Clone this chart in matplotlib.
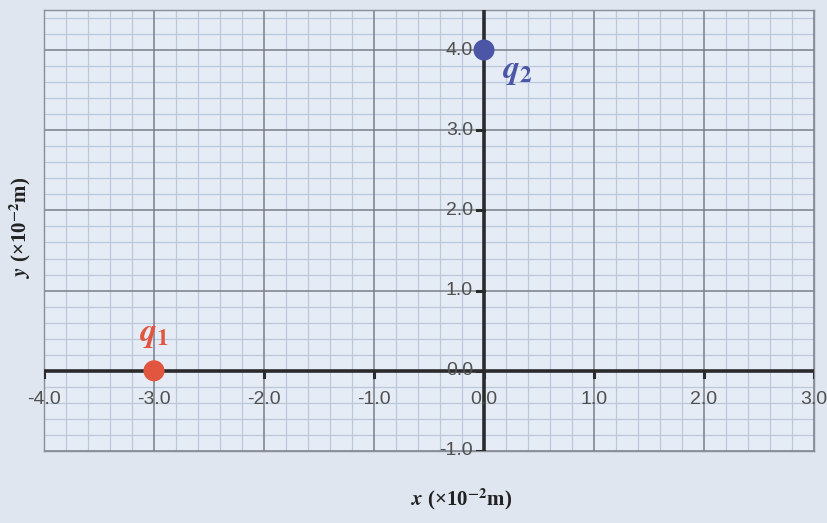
import matplotlib
matplotlib.use("Agg")
import matplotlib.pyplot as plt
import numpy as np

plt.rcParams["mathtext.fontset"] = "stix"

# --- data ---
charge_names = ["q_1", "q_2"]
charge_x = [-3.0, 0.0]
charge_y = [0.0, 4.0]
charge_colors = ["#e2553f", "#4b57a6"]

x_ticks = [-4.0, -3.0, -2.0, -1.0, 0.0, 1.0, 2.0, 3.0]
y_ticks = [-1.0, 0.0, 1.0, 2.0, 3.0, 4.0]

fig = plt.figure(figsize=(8.28, 5.23), dpi=100)
fig.patch.set_facecolor("#dfe6f0")
ax = fig.add_axes([0.0531, 0.1377, 0.9300, 0.8433])
ax.set_facecolor("#e6ecf5")
ax.set_xlim(-4, 3)
ax.set_ylim(-1, 4.5)

# grid paper
for v in np.arange(-4, 3.01, 0.2):
    if abs(v - round(v)) > 1e-6:
        ax.axvline(v, color="#b9c8dc", lw=0.9, zorder=1)
for v in np.arange(-1, 4.51, 0.2):
    if abs(v - round(v)) > 1e-6:
        ax.axhline(v, color="#b9c8dc", lw=0.9, zorder=1)
for v in x_ticks:
    ax.axvline(v, color="#7a7e86", lw=1.1, zorder=2)
for v in y_ticks:
    ax.axhline(v, color="#7a7e86", lw=1.1, zorder=2)

for s in ax.spines.values():
    s.set_color("#8a8e96")
    s.set_linewidth(1.0)
ax.set_xticks([])
ax.set_yticks([])

# axes through origin
ax.plot([-4, 3], [0, 0], color="#2b2b2b", lw=2.6, zorder=4, solid_capstyle="butt")
ax.plot([0, 0], [-1, 4.5], color="#2b2b2b", lw=2.6, zorder=4, solid_capstyle="butt")
for v in x_ticks:
    ax.plot([v, v], [0, -0.08], color="#2b2b2b", lw=2.2, zorder=4)
for v in y_ticks:
    ax.plot([0, -0.06], [v, v], color="#2b2b2b", lw=2.2, zorder=4)

# tick labels
for v in x_ticks:
    ax.text(v, -0.36, f"{v:.1f}", ha="center", va="center", fontsize=14,
            color="#505050", family="Liberation Sans", zorder=5)
for v in y_ticks:
    ax.text(-0.1, v, f"{v:.1f}", ha="right", va="center", fontsize=14,
            color="#505050", family="Liberation Sans", zorder=5)

# charges
for name, cx, cy, c in zip(charge_names, charge_x, charge_y, charge_colors):
    ax.scatter(cx, cy, s=230, color=c, zorder=6, edgecolors="none")
ax.text(charge_x[0], charge_y[0] + 0.46, r"$\mathbfit{q}_{\mathbf{1}}$", ha="center", va="center",
        fontsize=24, color=charge_colors[0], zorder=6)
ax.text(charge_x[1] + 0.3, charge_y[1] - 0.25, r"$\mathbfit{q}_{\mathbf{2}}$", ha="center", va="center",
        fontsize=24, color=charge_colors[1], zorder=6)

# axis labels
fig.text(0.558, 0.045, r"$\mathbfit{x}$ (×10$^{\mathbf{-2}}$m)", ha="center", va="center",
         fontsize=15, fontweight="bold", family="Liberation Serif", color="#222222")
fig.text(0.025, 0.565, r"$\mathbfit{y}$ (×10$^{\mathbf{-2}}$m)", ha="center", va="center", rotation=90,
         fontsize=15, fontweight="bold", family="Liberation Serif", color="#222222")

fig.savefig("out.png", dpi=100, facecolor=fig.get_facecolor())
